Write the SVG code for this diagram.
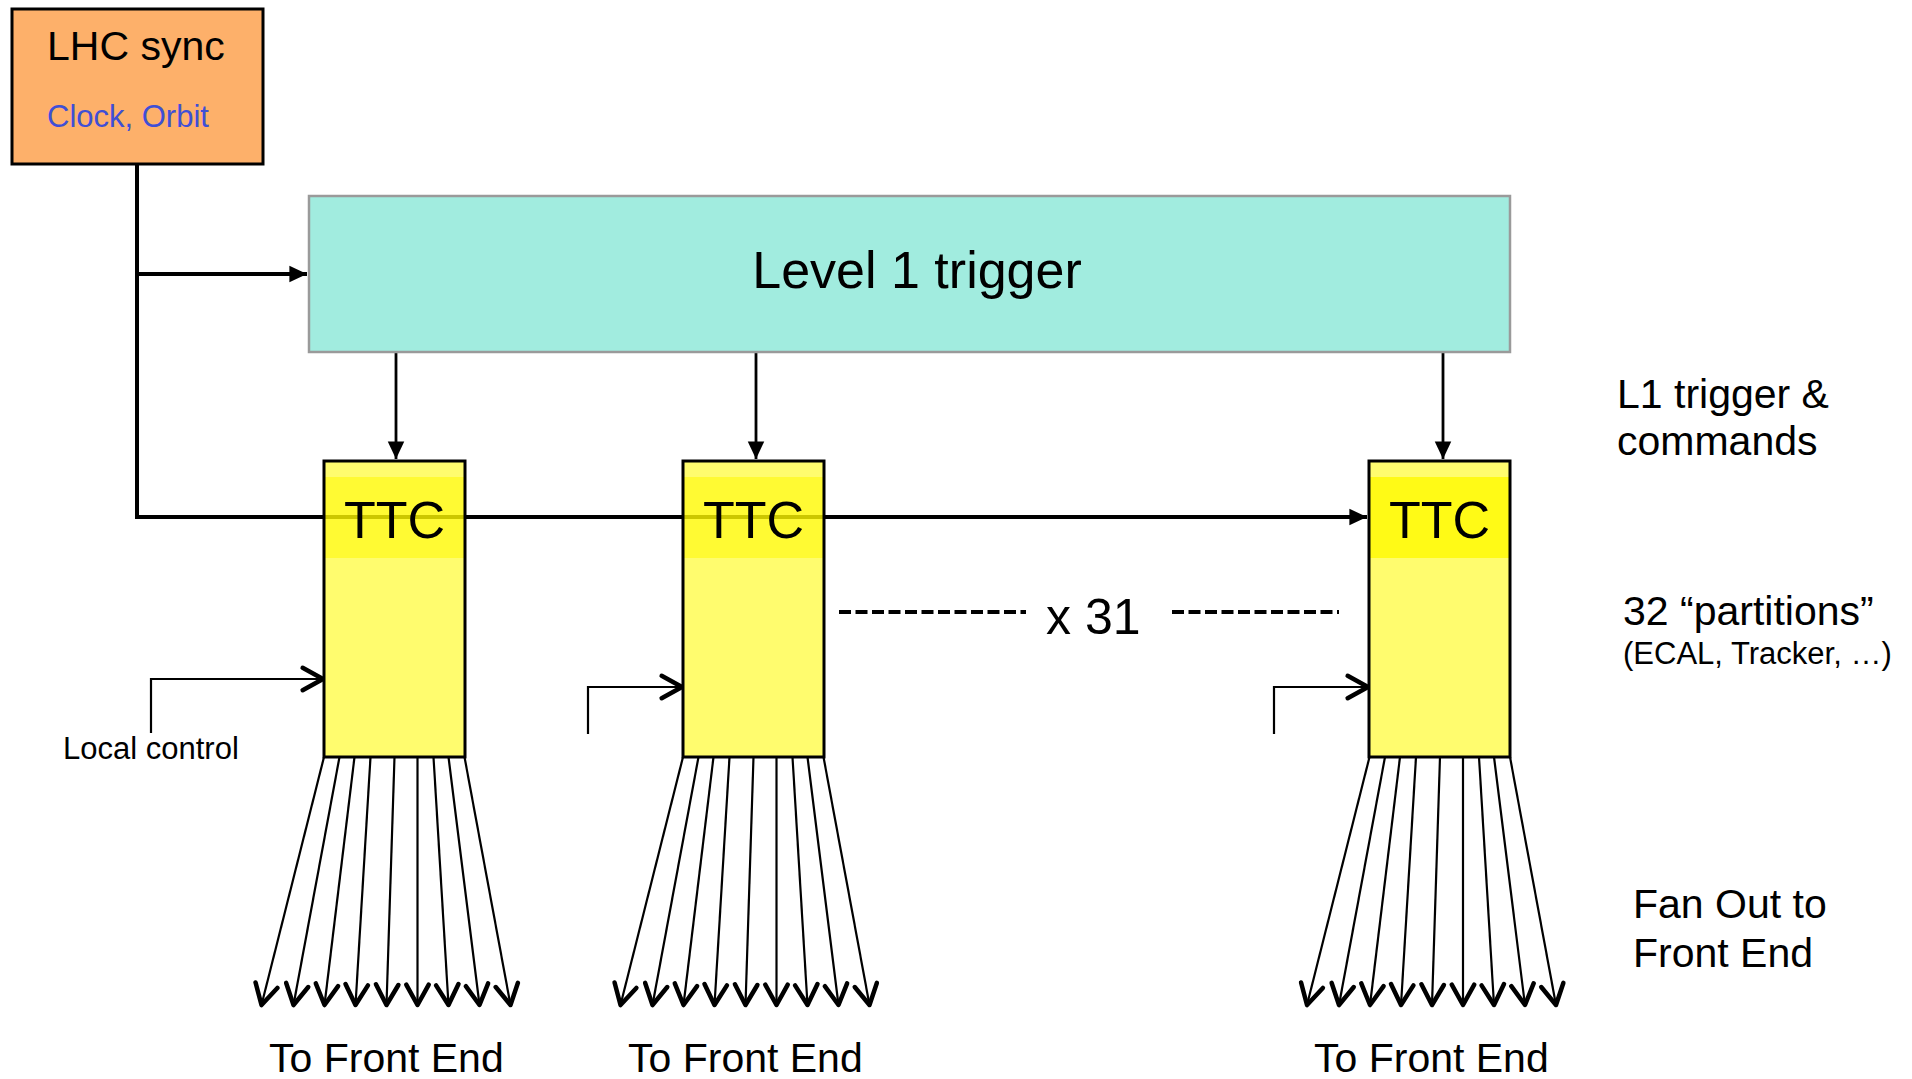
<svg xmlns="http://www.w3.org/2000/svg" width="1912" height="1079" viewBox="0 0 1912 1079">
<defs>
<style>
text{font-family:"Liberation Sans",Arial,Helvetica,sans-serif;fill:#000}
.ln{stroke:#000;fill:none}
.fan{stroke:#000;stroke-width:2.2;fill:none;marker-end:url(#chev)}
.body{fill:#FFFC6E}
.band{fill:#FFF900;fill-opacity:0.8}
.border{fill:none;stroke:#000;stroke-width:3}
.ttc{font-size:52px;text-anchor:middle}
.lbl{font-size:41px}
</style>
<marker id="tri" markerUnits="userSpaceOnUse" markerWidth="22" markerHeight="22" viewBox="-18 -9 20 18" refX="0" refY="0" orient="auto">
<path d="M-16,-7.5 L0,0 L-16,7.5 Z" fill="#000"/>
</marker>
<marker id="chev" markerUnits="userSpaceOnUse" markerWidth="30" markerHeight="30" viewBox="-24 -14 28 28" refX="0" refY="0" orient="auto">
<path d="M-19,-10.5 L0,0 L-19,10.5" fill="none" stroke="#000" stroke-width="4.2" stroke-linecap="round" stroke-linejoin="round"/>
</marker>
</defs>
<rect width="1912" height="1079" fill="#fff"/>

<g id="connectors">
<path class="ln" stroke-width="4" d="M137,164 V517 H1367" marker-end="url(#tri)"/>
<path class="ln" stroke-width="4" d="M137,274 H307" marker-end="url(#tri)"/>
<line class="ln" stroke-width="2.8" x1="396" y1="352" x2="396" y2="459" marker-end="url(#tri)"/>
<line class="ln" stroke-width="2.8" x1="756" y1="352" x2="756" y2="459" marker-end="url(#tri)"/>
<line class="ln" stroke-width="2.8" x1="1443" y1="352" x2="1443" y2="459" marker-end="url(#tri)"/>
<path class="ln" stroke-width="2.2" d="M151,733 V679 H323" marker-end="url(#chev)"/>
<path class="ln" stroke-width="2.2" d="M588,734 V687 H682" marker-end="url(#chev)"/>
<path class="ln" stroke-width="2.2" d="M1274,734 V687 H1368" marker-end="url(#chev)"/>
<line x1="839" y1="612" x2="1026" y2="612" stroke="#000" stroke-width="4" stroke-dasharray="12 4.5"/>
<line x1="1172" y1="612" x2="1339" y2="612" stroke="#000" stroke-width="4" stroke-dasharray="12 4.5"/>
<g id="fan1">
<line class="fan" x1="324" y1="757" x2="261.5" y2="1005"/>
<line class="fan" x1="339.5" y1="757" x2="293.5" y2="1005"/>
<line class="fan" x1="354.5" y1="757" x2="324.5" y2="1005"/>
<line class="fan" x1="370.5" y1="757" x2="355.5" y2="1005"/>
<line class="fan" x1="394.5" y1="757" x2="386.5" y2="1005"/>
<line class="fan" x1="417.5" y1="757" x2="417.5" y2="1005"/>
<line class="fan" x1="433.5" y1="757" x2="448.5" y2="1005"/>
<line class="fan" x1="448.5" y1="757" x2="479.5" y2="1005"/>
<line class="fan" x1="464.5" y1="757" x2="510.5" y2="1005"/>
</g>
<g id="fan2">
<line class="fan" x1="683" y1="757" x2="620.5" y2="1005"/>
<line class="fan" x1="698.5" y1="757" x2="652.5" y2="1005"/>
<line class="fan" x1="713.5" y1="757" x2="683.5" y2="1005"/>
<line class="fan" x1="729.5" y1="757" x2="714.5" y2="1005"/>
<line class="fan" x1="753.5" y1="757" x2="745.5" y2="1005"/>
<line class="fan" x1="776.5" y1="757" x2="776.5" y2="1005"/>
<line class="fan" x1="792.5" y1="757" x2="807.5" y2="1005"/>
<line class="fan" x1="807.5" y1="757" x2="838.5" y2="1005"/>
<line class="fan" x1="823.5" y1="757" x2="869.5" y2="1005"/>
</g>
<g id="fan3">
<line class="fan" x1="1369.5" y1="757" x2="1307" y2="1005"/>
<line class="fan" x1="1385" y1="757" x2="1339" y2="1005"/>
<line class="fan" x1="1400" y1="757" x2="1370" y2="1005"/>
<line class="fan" x1="1416" y1="757" x2="1401" y2="1005"/>
<line class="fan" x1="1440" y1="757" x2="1432" y2="1005"/>
<line class="fan" x1="1463" y1="757" x2="1463" y2="1005"/>
<line class="fan" x1="1479" y1="757" x2="1494" y2="1005"/>
<line class="fan" x1="1494" y1="757" x2="1525" y2="1005"/>
<line class="fan" x1="1510" y1="757" x2="1556" y2="1005"/>
</g>
</g>

<g id="lhc-sync">
<rect x="12" y="9" width="251" height="155" fill="#FDB06A" stroke="#000" stroke-width="3"/>
<text x="47" y="60" font-size="41">LHC sync</text>
<text x="47" y="127" font-size="31" style="fill:#3F4FD6">Clock, Orbit</text>
</g>

<g id="level1-trigger">
<rect x="309" y="196" width="1201" height="156" fill="#A1ECDF" stroke="#9A9A9A" stroke-width="2.5"/>
<text x="917" y="288" font-size="52" text-anchor="middle">Level 1 trigger</text>
</g>

<g id="ttc1">
<rect class="body" x="324" y="461" width="141" height="16"/>
<rect class="body" x="324" y="558" width="141" height="199"/>
<rect class="band" x="324" y="477" width="141" height="81"/>
<rect class="border" x="324" y="461" width="141" height="296"/>
<text class="ttc" x="394.5" y="538">TTC</text>
</g>
<g id="ttc2">
<rect class="body" x="683" y="461" width="141" height="16"/>
<rect class="body" x="683" y="558" width="141" height="199"/>
<rect class="band" x="683" y="477" width="141" height="81"/>
<rect class="border" x="683" y="461" width="141" height="296"/>
<text class="ttc" x="753.5" y="538">TTC</text>
</g>
<g id="ttc3">
<rect class="body" x="1369" y="461" width="141" height="296"/>
<rect class="band" x="1369" y="477" width="141" height="81"/>
<rect class="border" x="1369" y="461" width="141" height="296"/>
<text class="ttc" x="1439.5" y="538">TTC</text>
</g>

<g id="labels">
<text x="63" y="759" font-size="31">Local control</text>
<text x="1046" y="634" font-size="50">x 31</text>
<text class="lbl" x="1617" y="408">L1 trigger &amp;</text>
<text class="lbl" x="1617" y="455">commands</text>
<text class="lbl" x="1623" y="625">32 “partitions”</text>
<text x="1623" y="664" font-size="31">(ECAL, Tracker, …)</text>
<text class="lbl" x="1633" y="918">Fan Out to</text>
<text class="lbl" x="1633" y="967">Front End</text>
<text class="lbl" x="269" y="1072">To Front End</text>
<text class="lbl" x="628" y="1072">To Front End</text>
<text class="lbl" x="1314" y="1072">To Front End</text>
</g>
</svg>
